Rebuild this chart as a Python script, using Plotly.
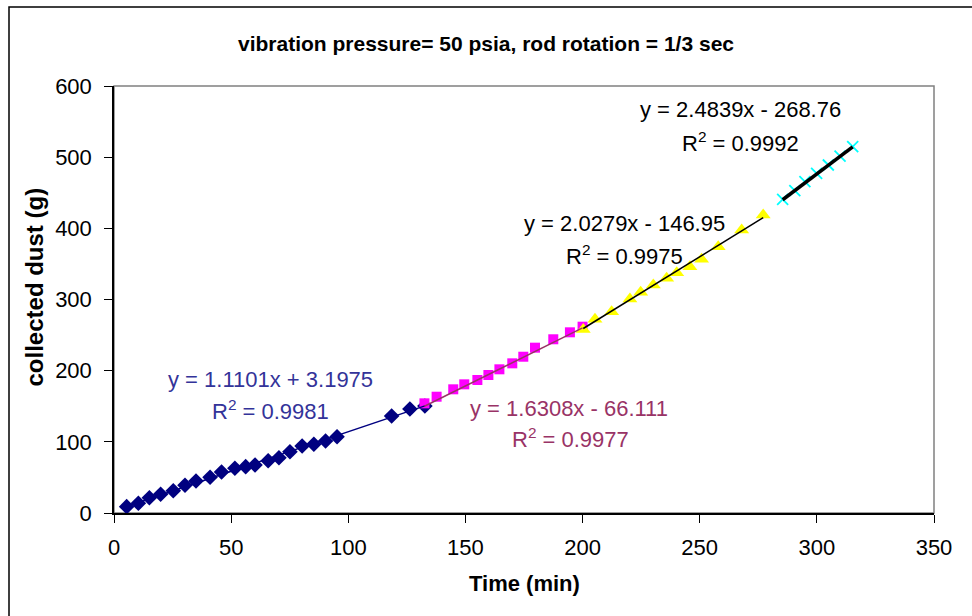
import plotly.graph_objects as go

# Dust collection runs: time (min) vs. collected dust (g), four phases
t_phase1 = [5.4, 10.4, 15.1, 19.9, 25.3, 30.3, 35.0, 41.0, 45.9, 51.6, 56.2,
            60.2, 65.8, 70.4, 75.1, 80.3, 85.3, 90.3, 95.2, 118.5, 126.3, 132.7]
m_phase1 = [8.9, 13.6, 21.5, 26.3, 31.3, 38.9, 44.9, 50.2, 57.6, 62.8, 65.1,
            67.4, 73.5, 77.7, 86.1, 94.1, 96.5, 101.1, 107.2, 136.3, 146.1, 150.3]

t_phase2 = [132.5, 137.7, 144.8, 149.5, 155.1, 159.8, 164.5, 170.0, 174.7,
            179.7, 187.5, 194.6, 200.0]
m_phase2 = [154.1, 163.4, 173.8, 180.8, 186.9, 193.9, 201.9, 210.3, 219.6,
            232.3, 244.1, 253.9, 261.8]

t_phase3 = [200.3, 205.3, 212.4, 220.2, 224.8, 230.2, 235.9, 240.2, 245.8,
            250.8, 257.9, 267.9, 277.1]
m_phase3 = [258.0, 272.2, 282.8, 300.7, 310.1, 320.4, 329.8, 337.5, 346.0,
            356.5, 374.2, 397.6, 418.7]

t_phase4 = [285.4, 290.6, 294.9, 299.9, 304.9, 309.9, 315.3]
m_phase4 = [440.8, 452.9, 465.5, 477.3, 489.0, 501.6, 514.7]

# Linear fits (slope, intercept, R^2)
fit_slope = [1.1101, 1.6308, 2.0279, 2.4839]
fit_icpt = [3.1975, -66.111, -146.95, -268.76]
fit_r2 = [0.9981, 0.9977, 0.9975, 0.9992]

title_text = "vibration pressure= 50 psia, rod rotation = 1/3 sec"
x_title = "Time (min)"
y_title = "collected dust (g)"
x_ticks = [0, 50, 100, 150, 200, 250, 300, 350]
y_ticks = [0, 100, 200, 300, 400, 500, 600]

FONT = "Liberation Sans, Arial, sans-serif"

series = [
    dict(t=t_phase1, m=m_phase1, symbol="diamond", color="#000080", size=12,
         line_color="#000080", line_w=1.5, text_color="#333399",
         eq_at=(66.6, 187), r2_at=(66.6, 145)),
    dict(t=t_phase2, m=m_phase2, symbol="square", color="#FF00FF", size=10,
         line_color="#993366", line_w=1.5, text_color="#993366",
         eq_at=(194.2, 147.5), r2_at=(195.0, 105.4)),
    dict(t=t_phase3, m=m_phase3, symbol="triangle-up", color="#FFFF00", size=13,
         line_color="#000000", line_w=1.5, text_color="#000000",
         eq_at=(217.7, 407.5), r2_at=(218.1, 362.5)),
    dict(t=t_phase4, m=m_phase4, symbol="x-thin-open", color="#00FFFF", size=11,
         line_color="#000000", line_w=3.5, text_color="#000000",
         eq_at=(267.6, 566.3), r2_at=(267.6, 521.3)),
]

fig = go.Figure()

for s in series:
    mk = dict(symbol=s["symbol"], size=s["size"], color=s["color"])
    if s["symbol"] == "x-thin-open":
        mk["line"] = dict(color=s["color"], width=1.8)
    else:
        mk["line"] = dict(width=0)
    fig.add_trace(go.Scatter(x=s["t"], y=s["m"], mode="markers", marker=mk,
                             showlegend=False, hoverinfo="x+y"))

# Trend lines over each phase's time range
for s, a, b in zip(series, fit_slope, fit_icpt):
    x0, x1 = min(s["t"]), max(s["t"])
    fig.add_trace(go.Scatter(x=[x0, x1], y=[a * x0 + b, a * x1 + b], mode="lines",
                             line=dict(color=s["line_color"], width=s["line_w"]),
                             showlegend=False, hoverinfo="skip"))

# Fit equation labels
for s, a, b, r2 in zip(series, fit_slope, fit_icpt, fit_r2):
    sign = "+" if b >= 0 else "-"
    eq = f"y = {a:.4f}x {sign} {abs(b):g}"
    fig.add_annotation(x=s["eq_at"][0], y=s["eq_at"][1], text=eq, showarrow=False,
                       font=dict(family=FONT, size=22, color=s["text_color"]))
    fig.add_annotation(x=s["r2_at"][0], y=s["r2_at"][1],
                       text=f"R<sup>2</sup> = {r2:.4f}", showarrow=False,
                       font=dict(family=FONT, size=22, color=s["text_color"]))

# Axis titles
fig.add_annotation(x=0.5, y=0, xref="paper", yref="paper", yshift=-70,
                   yanchor="middle", text=f"<b>{x_title}</b>", showarrow=False,
                   font=dict(family=FONT, size=22, color="black"))
fig.add_annotation(x=0, y=0.5, xref="paper", yref="paper", xshift=-80, yshift=12,
                   xanchor="center", text=f"<b>{y_title}</b>", textangle=-90,
                   showarrow=False, font=dict(family=FONT, size=24, color="black"))

# Plot-area frame (grey) and outer chart border
fig.add_shape(type="rect", xref="paper", yref="paper", x0=0, x1=1, y0=0, y1=1,
              line=dict(color="#808080", width=1.5), layer="below")
fig.add_shape(type="rect", xref="paper", yref="paper",
              x0=(9 - 114) / 820, x1=(990 - 114) / 820,
              y0=(513 - 640) / 427, y1=(513 - 7) / 427,
              line=dict(color="black", width=1.5), layer="below")

fig.update_layout(
    width=972, height=616,
    margin=dict(l=114, r=38, t=86, b=103),
    paper_bgcolor="white", plot_bgcolor="white",
    font=dict(family=FONT, color="black"),
    title=dict(text=f"<b>{title_text}</b>", x=0.5, xref="container",
               xanchor="center", y=1 - 44 / 616, yref="container",
               yanchor="middle", font=dict(family=FONT, size=21, color="black")),
    xaxis=dict(range=[0, 350], tickvals=x_ticks, showgrid=False, zeroline=False,
               showline=True, linecolor="black", linewidth=1.5,
               ticks="outside", ticklen=8, tickcolor="black", tickwidth=1,
               ticklabelstandoff=6, tickfont=dict(family=FONT, size=22)),
    yaxis=dict(range=[0, 600], tickvals=y_ticks, showgrid=False, zeroline=False,
               showline=True, linecolor="black", linewidth=1.5,
               ticks="outside", ticklen=8, tickcolor="black", tickwidth=1,
               ticklabelstandoff=8, tickfont=dict(family=FONT, size=22)),
)

fig.write_html("out.html")
